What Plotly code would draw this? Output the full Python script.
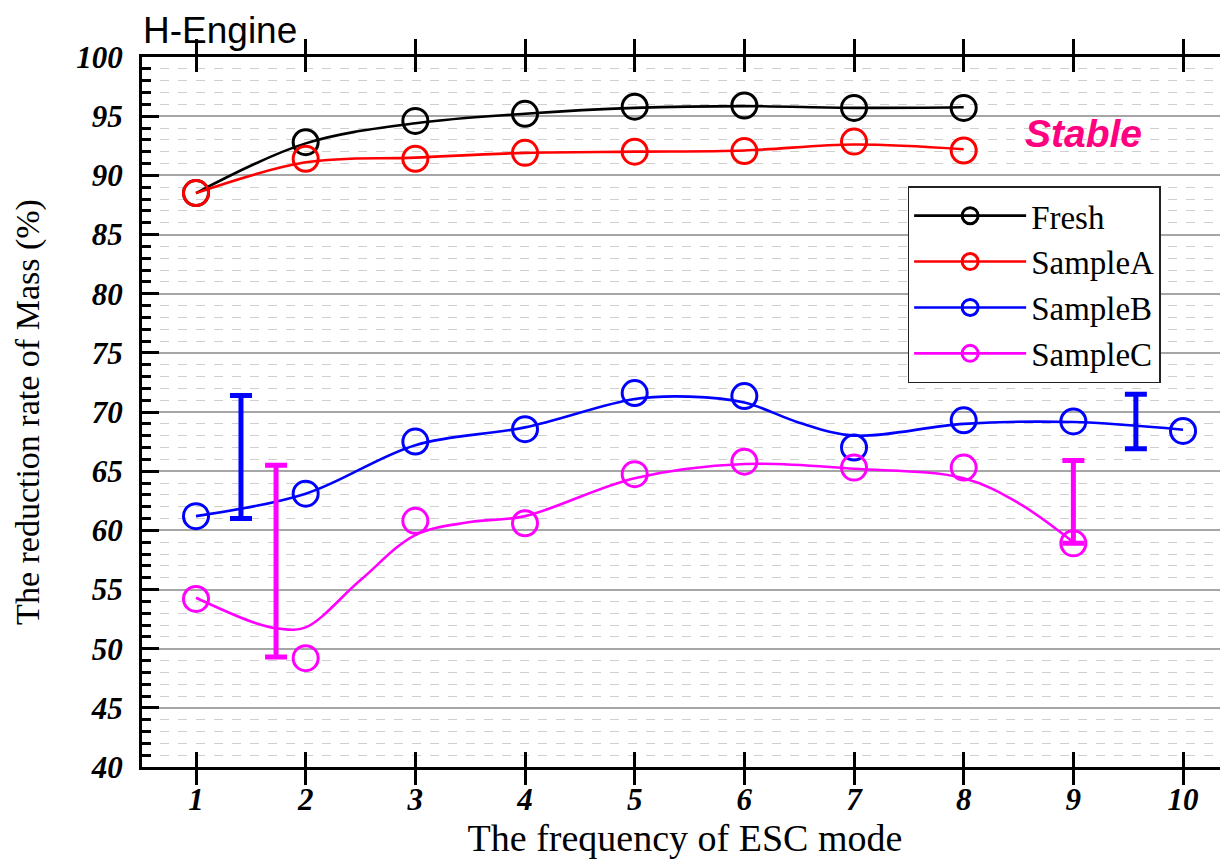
import plotly.graph_objects as go

# ---------------- data ----------------
x_ticks = [1, 2, 3, 4, 5, 6, 7, 8, 9, 10]
y_major = [40, 45, 50, 55, 60, 65, 70, 75, 80, 85, 90, 95, 100]

series_names = ["Fresh", "SampleA", "SampleB", "SampleC"]
series_colors = ["#000000", "#FF0000", "#0000FF", "#FF00FF"]

fresh_x = [1, 2, 3, 4, 5, 6, 7, 8]
fresh_y = [88.5, 92.8, 94.6, 95.2, 95.8, 95.9, 95.7, 95.7]
sampleA_x = [1, 2, 3, 4, 5, 6, 7, 8]
sampleA_y = [88.5, 91.4, 91.4, 91.9, 92.0, 92.05, 92.85, 92.1]
sampleB_x = [1, 2, 3, 4, 5, 6, 7, 8, 9, 10]
sampleB_y = [61.2, 63.1, 67.5, 68.55, 71.6, 71.35, 67.0, 69.3, 69.2, 68.4]
sampleC_x = [1, 2, 3, 4, 5, 6, 7, 8, 9]
sampleC_y = [54.2, 49.2, 60.8, 60.6, 64.75, 65.8, 65.3, 65.3, 58.9]

# smoothed curves
fresh_fit_x = [1, 2, 3, 4, 5, 6, 7, 8]
fresh_fit_y = [88.5, 92.7, 94.4, 95.2, 95.7, 95.85, 95.7, 95.75]
sampleA_fit_x = [1, 2, 3, 4, 5, 6, 7, 8]
sampleA_fit_y = [88.5, 91.1, 91.5, 91.9, 92.0, 92.1, 92.6, 92.2]
sampleB_fit_x = [1, 2, 3, 4, 5, 5.5, 6, 6.5, 7, 8, 9, 10]
sampleB_fit_y = [61.2, 63.1, 67.2, 68.7, 71.1, 71.3, 70.8, 69.1, 68.0, 69.0, 69.15, 68.5]
sampleC_fit_x = [1, 1.5, 1.75, 2, 2.5, 3, 3.5, 4, 5, 6, 7, 8, 8.5, 9]
sampleC_fit_y = [54.3, 52.3, 51.7, 51.8, 55.8, 59.6, 60.7, 61.2, 64.4, 65.6, 65.2, 64.4, 62.3, 59.0]

# range bars
bar_x = [1.41, 1.73, 9.0, 9.57]
bar_low = [61.0, 49.3, 58.9, 66.9]
bar_high = [71.4, 65.5, 65.9, 71.5]
bar_colors = ["#0000FF", "#FF00FF", "#FF00FF", "#0000FF"]

title_text = "H-Engine"
note_text = "Stable"
x_title = "The frequency of ESC mode"
y_title = "The reduction rate of Mass (%)"

# ---------------- figure ----------------
SERIF = "Liberation Serif"
SANS = "Liberation Sans"

fig = go.Figure()

pts = [(fresh_x, fresh_y), (sampleA_x, sampleA_y), (sampleB_x, sampleB_y), (sampleC_x, sampleC_y)]
fits = [(fresh_fit_x, fresh_fit_y), (sampleA_fit_x, sampleA_fit_y),
        (sampleB_fit_x, sampleB_fit_y), (sampleC_fit_x, sampleC_fit_y)]

for name, color, (fx, fy) in zip(series_names, series_colors, fits):
    fig.add_trace(go.Scatter(
        x=fx, y=fy, mode="lines", line=dict(color=color, width=2.6, shape="spline", smoothing=1.0),
        showlegend=False, hoverinfo="skip", legendgroup=name))

for name, color, (px, py) in zip(series_names, series_colors, pts):
    # isolated points (gaps between them) so the legend shows line + marker
    gx, gy = [], []
    for a, b in zip(px, py):
        gx += [a, None]
        gy += [b, None]
    fig.add_trace(go.Scatter(
        x=gx, y=gy, mode="lines+markers", name=name, legendgroup=name,
        connectgaps=False,
        line=dict(color=color, width=2.6),
        marker=dict(symbol="circle-open", size=25, color=color, line=dict(width=3, color=color))))

for bx, lo, hi, c in zip(bar_x, bar_low, bar_high, bar_colors):
    fig.add_trace(go.Scatter(
        x=[bx], y=[(lo + hi) / 2], mode="markers", yaxis="y2",
        marker=dict(size=1, opacity=0, color=c), showlegend=False, hoverinfo="skip",
        error_y=dict(type="data", array=[(hi - lo) / 2], visible=True,
                     color=c, thickness=5, width=11)))

fig.update_layout(
    width=1220, height=860,
    margin=dict(l=134, r=0, t=49, b=101, autoexpand=False),
    paper_bgcolor="white", plot_bgcolor="white",
    xaxis=dict(
        range=[0.5076, 10.41], tickvals=x_ticks, ticktext=[str(v) for v in x_ticks],
        showgrid=False, zeroline=False,
        showline=True, linecolor="black", linewidth=3, mirror="allticks",
        ticks="inside", ticklen=15, tickwidth=3, tickcolor="black",
        tickfont=dict(family=SERIF, size=31, color="black", weight="bold", style="italic"),
        ticklabelstandoff=3,
        title=dict(text=x_title, font=dict(family=SERIF, size=38, color="black"), standoff=5),
    ),
    yaxis=dict(
        range=[40, 100], tickvals=y_major,
        showgrid=True, gridcolor="#A6A6A6", gridwidth=1.5, zeroline=False,
        showline=True, linecolor="black", linewidth=3, mirror=False,
        ticks="inside", ticklen=17, tickwidth=3, tickcolor="black",
        tickfont=dict(family=SERIF, size=31, color="black", weight="bold", style="italic"),
        ticklabelstandoff=10,
        minor=dict(dtick=1, ticks="inside", ticklen=9, tickwidth=3, tickcolor="black",
                   showgrid=True, gridcolor="#CFCFCF", gridwidth=1, griddash="dash"),
        title=dict(text=y_title, font=dict(family=SERIF, size=34, color="black"), standoff=27),
    ),
    yaxis2=dict(
        range=[40, 100], overlaying="y", side="right", tickvals=y_major,
        showgrid=False, zeroline=False, showline=False, showticklabels=False,
        ticks="inside", ticklen=7, tickwidth=3, tickcolor="black",
    ),
    legend=dict(
        x=0.705, y=0.818, xanchor="left", yanchor="top",
        bgcolor="white", bordercolor="#222222", borderwidth=1.5,
        font=dict(family=SERIF, size=33, color="black"),
        itemwidth=112, tracegroupgap=0,
    ),
    showlegend=True,
    annotations=[
        dict(text=title_text, xref="paper", yref="paper", x=0.0, y=1.0, yshift=48,
             xanchor="left", yanchor="top", showarrow=False, borderpad=0,
             font=dict(family=SANS, size=37, color="black")),
        dict(text=note_text, xref="x", yref="y", x=9.09, y=93.5,
             xanchor="center", yanchor="middle", showarrow=False,
             font=dict(family=SANS, size=39, color="#FF0080", weight="bold", style="italic")),
    ],
)

fig.write_html("out.html")
